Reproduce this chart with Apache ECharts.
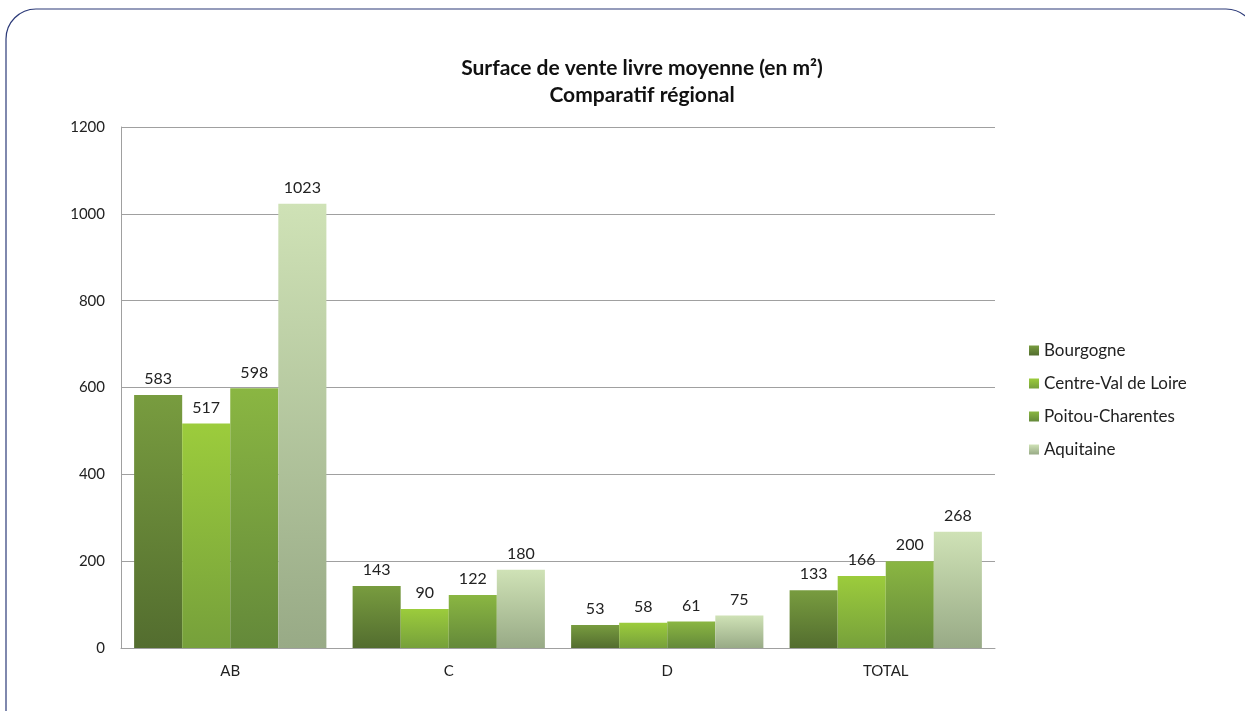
<!DOCTYPE html>
<html>
<head>
<meta charset="utf-8">
<script src="https://cdn.jsdelivr.net/npm/echarts@6/dist/echarts.min.js"></script>
<style>
  html, body { margin: 0; padding: 0; background: #fff; }
  #chart { width: 1245px; height: 711px; }
</style>
</head>
<body>
<div id="chart"></div>
<script>
var categories = ['AB', 'C', 'D', 'TOTAL'];
var regions = ['Bourgogne', 'Centre-Val de Loire', 'Poitou-Charentes', 'Aquitaine'];
var bourgogne = [583, 143, 53, 133];
var centreVal = [517, 90, 58, 166];
var poitou = [598, 122, 61, 200];
var aquitaine = [1023, 180, 75, 268];

// top / bottom colour of each gradient
var colors = [
  ['#789c3f', '#536d2f'],
  ['#9ccc3c', '#76a03b'],
  ['#8ab642', '#64893a'],
  ['#cfe2b6', '#98aa86']
];

var myChart = echarts.init(document.getElementById('chart'));

function grad(c) {
  return new echarts.graphic.LinearGradient(0, 0, 0, 1, [
    { offset: 0, color: c[0] },
    { offset: 1, color: c[1] }
  ]);
}

var values = [bourgogne, centreVal, poitou, aquitaine];
var series = regions.map(function (name, i) {
  return {
    name: name,
    type: 'bar',
    data: values[i],
    barGap: '0%',
    barCategoryGap: '12%',
    itemStyle: { color: grad(colors[i]) },
    label: {
      show: true,
      position: 'top',
      distance: 8,
      fontFamily: 'Lato',
      fontSize: 16,
      color: '#222'
    }
  };
});

var option = {
  animation: false,
  backgroundColor: '#fff',
  title: {
    text: 'Surface de vente livre moyenne (en m²)\nComparatif régional',
    left: 637,
    top: 50,
    textAlign: 'center',
    textStyle: {
      fontFamily: 'Lato',
      fontSize: 21,
      fontWeight: 'bold',
      color: '#111',
      lineHeight: 27
    }
  },
  graphic: [{
    type: 'rect',
    shape: { x: 6, y: 9, width: 1250, height: 760, r: 30 },
    style: { fill: 'none', stroke: '#2c3a78', lineWidth: 1.2 },
    z: -1
  }],
  legend: {
    orient: 'vertical',
    left: 1024,
    top: 337,
    itemWidth: 10,
    itemHeight: 10,
    itemGap: 16,
    icon: 'rect',
    textStyle: { fontFamily: 'Lato', fontSize: 17, color: '#222' },
    data: regions
  },
  grid: { left: 121, right: 250, top: 127, bottom: 63, containLabel: false },
  xAxis: {
    type: 'category',
    data: categories,
    axisLine: { lineStyle: { color: '#a0a0a0' } },
    axisTick: { show: false },
    axisLabel: { fontFamily: 'Lato', fontSize: 15, color: '#222', margin: 16 }
  },
  yAxis: {
    type: 'value',
    min: 0,
    max: 1200,
    interval: 200,
    axisLine: { show: true, lineStyle: { color: '#a0a0a0' } },
    axisTick: { show: false },
    splitLine: { lineStyle: { color: '#a0a0a0' } },
    axisLabel: {
      fontFamily: 'Lato', fontSize: 15, color: '#222', margin: 16,
      formatter: function (v) { return String(v); }
    }
  },
  series: series
};

myChart.setOption(option);
window.addEventListener('resize', myChart.resize);
</script>
</body>
</html>
